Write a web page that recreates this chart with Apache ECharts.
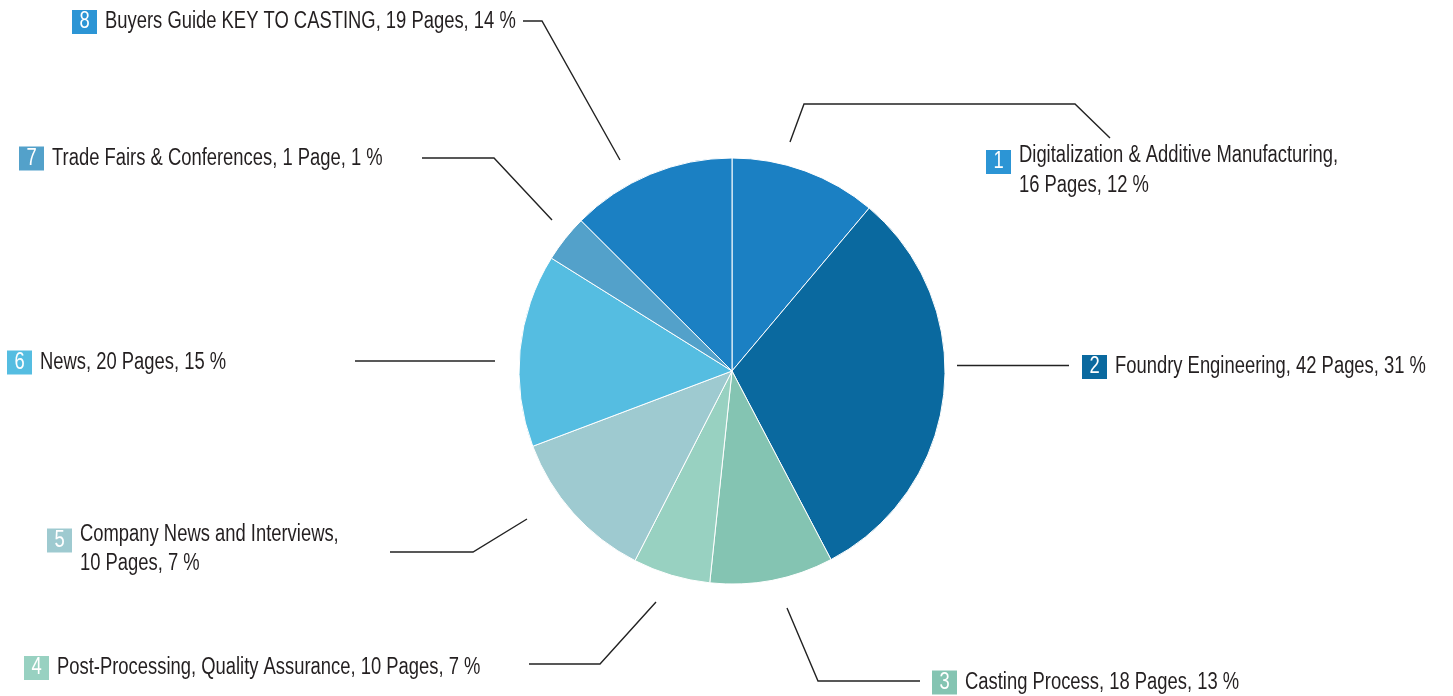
<!DOCTYPE html>
<html>
<head>
<meta charset="utf-8">
<script src="https://cdn.jsdelivr.net/npm/echarts@6/dist/echarts.min.js"></script>
<style>
html,body{margin:0;padding:0;background:#ffffff;}
#chart{width:1453px;height:696px;}
</style>
</head>
<body>
<div id="chart"></div>
<script>
// ---- data ----
const numbers = ['1', '2', '3', '4', '5', '6', '7', '8'];
const categories = [
  'Digitalization & Additive Manufacturing',
  'Foundry Engineering',
  'Casting Process',
  'Post-Processing, Quality Assurance',
  'Company News and Interviews',
  'News',
  'Trade Fairs & Conferences',
  'Buyers Guide KEY TO CASTING'
];
const pages = [16, 42, 18, 10, 10, 20, 1, 19];
const percents = [12, 31, 13, 7, 7, 15, 1, 14];
// slice sizes as drawn in the picture (degrees of the circle)
const sliceValues = [40.1, 112.2, 33.7, 21.1, 42.2, 52.7, 12.9, 45.1];

// ---- styles ----
const sliceColors = ['#1b80c3', '#0a699f', '#84c4b2', '#98d1c1', '#9ecad0', '#55bde1', '#53a1ca', '#1b80c3'];
const boxColors   = ['#2c95d5', '#0a699f', '#84c4b2', '#98d1c1', '#9ecad0', '#55bde1', '#53a1ca', '#2c95d5'];
const FONT = '"Liberation Sans", Arial, sans-serif';
const FONT_SIZE = 23;
const CONDENSE = 0.8;               // horizontal squeeze to imitate a condensed face
const TEXT_COLOR = '#231f20';
const LINE_COLOR = '#222222';

// ---- label layout (positions only) ----
const labelLayouts = [
  { x: 986,  y: 138,   two: true,  line: [[790, 142], [804, 104], [1075, 104], [1110, 138]] },
  { x: 1082, y: 367,   two: false, line: [[957, 365.5], [1069, 365.5]] },
  { x: 932,  y: 682.5, two: false, line: [[787, 608], [818, 681], [920, 681]] },
  { x: 24,   y: 668,   two: false, line: [[656, 602], [600, 664], [529, 664]] },
  { x: 47,   y: 516.5, two: true,  line: [[527, 519], [473, 552], [390, 552]] },
  { x: 7,    y: 362.5, two: false, line: [[495, 361], [355, 361]] },
  { x: 19,   y: 158.5, two: false, line: [[552, 220], [494, 158], [422, 158]] },
  { x: 72,   y: 22,    two: false, line: [[620, 160], [542, 21], [523, 21]] }
];

function pageText(i) {
  return pages[i] + (pages[i] === 1 ? ' Page' : ' Pages') + ', ' + percents[i] + ' %';
}

const BOX_W = 25 / CONDENSE, GAP_W = 8 / CONDENSE;
const rich = {
  g:  { width: GAP_W, lineHeight: 24 },
  t:  { fontSize: FONT_SIZE, lineHeight: 24, color: TEXT_COLOR, fontFamily: FONT },
  t1: { fontSize: FONT_SIZE, lineHeight: 24, color: TEXT_COLOR, fontFamily: FONT },
  sp: { width: BOX_W + GAP_W, lineHeight: 23 },
  t2: { fontSize: FONT_SIZE, lineHeight: 23, color: TEXT_COLOR, fontFamily: FONT }
};
boxColors.forEach(function (c, i) {
  rich['a' + i] = { width: BOX_W, height: 24, lineHeight: 24, align: 'center', backgroundColor: c,
                    color: '#ffffff', fontSize: FONT_SIZE, fontFamily: FONT };
  rich['b' + i] = { width: BOX_W, height: 24, lineHeight: 36, verticalAlign: 'bottom', align: 'center',
                    backgroundColor: c, color: '#ffffff', fontSize: FONT_SIZE, fontFamily: FONT };
});

const chart = echarts.init(document.getElementById('chart'), null, { renderer: 'canvas' });
chart.setOption({
  backgroundColor: '#ffffff',
  animation: false,
  series: [{
    type: 'pie',
    center: [732, 371],
    radius: [0, 213],
    startAngle: 90,
    clockwise: true,
    avoidLabelOverlap: false,
    silent: true,
    emphasis: { disabled: true },
    itemStyle: { borderColor: '#ffffff', borderWidth: 1 },
    data: categories.map(function (name, i) {
      return { name: name, value: sliceValues[i], itemStyle: { color: sliceColors[i] } };
    }),
    label: {
      show: true,
      position: 'outside',
      fontFamily: FONT,
      fontSize: FONT_SIZE,
      color: TEXT_COLOR,
      rich: rich,
      formatter: function (p) {
        const i = p.dataIndex;
        if (labelLayouts[i].two) {
          return '{b' + i + '|' + numbers[i] + '}{g|}{t1|' + categories[i] + ',}\n{sp|}{t2|' + pageText(i) + '}';
        }
        return '{a' + i + '|' + numbers[i] + '}{g|}{t|' + categories[i] + ', ' + pageText(i) + '}';
      }
    },
    labelLine: {
      show: true,
      length: 10,
      length2: 10,
      smooth: false,
      lineStyle: { color: LINE_COLOR, width: 1.4 }
    },
    labelLayout: function (params) {
      const L = labelLayouts[params.dataIndex];
      return {
        x: L.x,
        y: L.y,
        align: 'left',
        verticalAlign: L.two ? 'top' : 'middle',
        labelLinePoints: L.line
      };
    }
  }]
});

// squeeze the label texts horizontally (anchored at their left edge)
try {
  const data = chart.getModel().getSeriesByIndex(0).getData();
  data.each(function (i) {
    const el = data.getItemGraphicEl(i);
    const t = el && el.getTextContent();
    if (t) { t.scaleX = CONDENSE; t.markRedraw(); }
  });
  chart.getZr().refreshImmediately();
} catch (e) { /* keep unsqueezed labels */ }
</script>
</body>
</html>
